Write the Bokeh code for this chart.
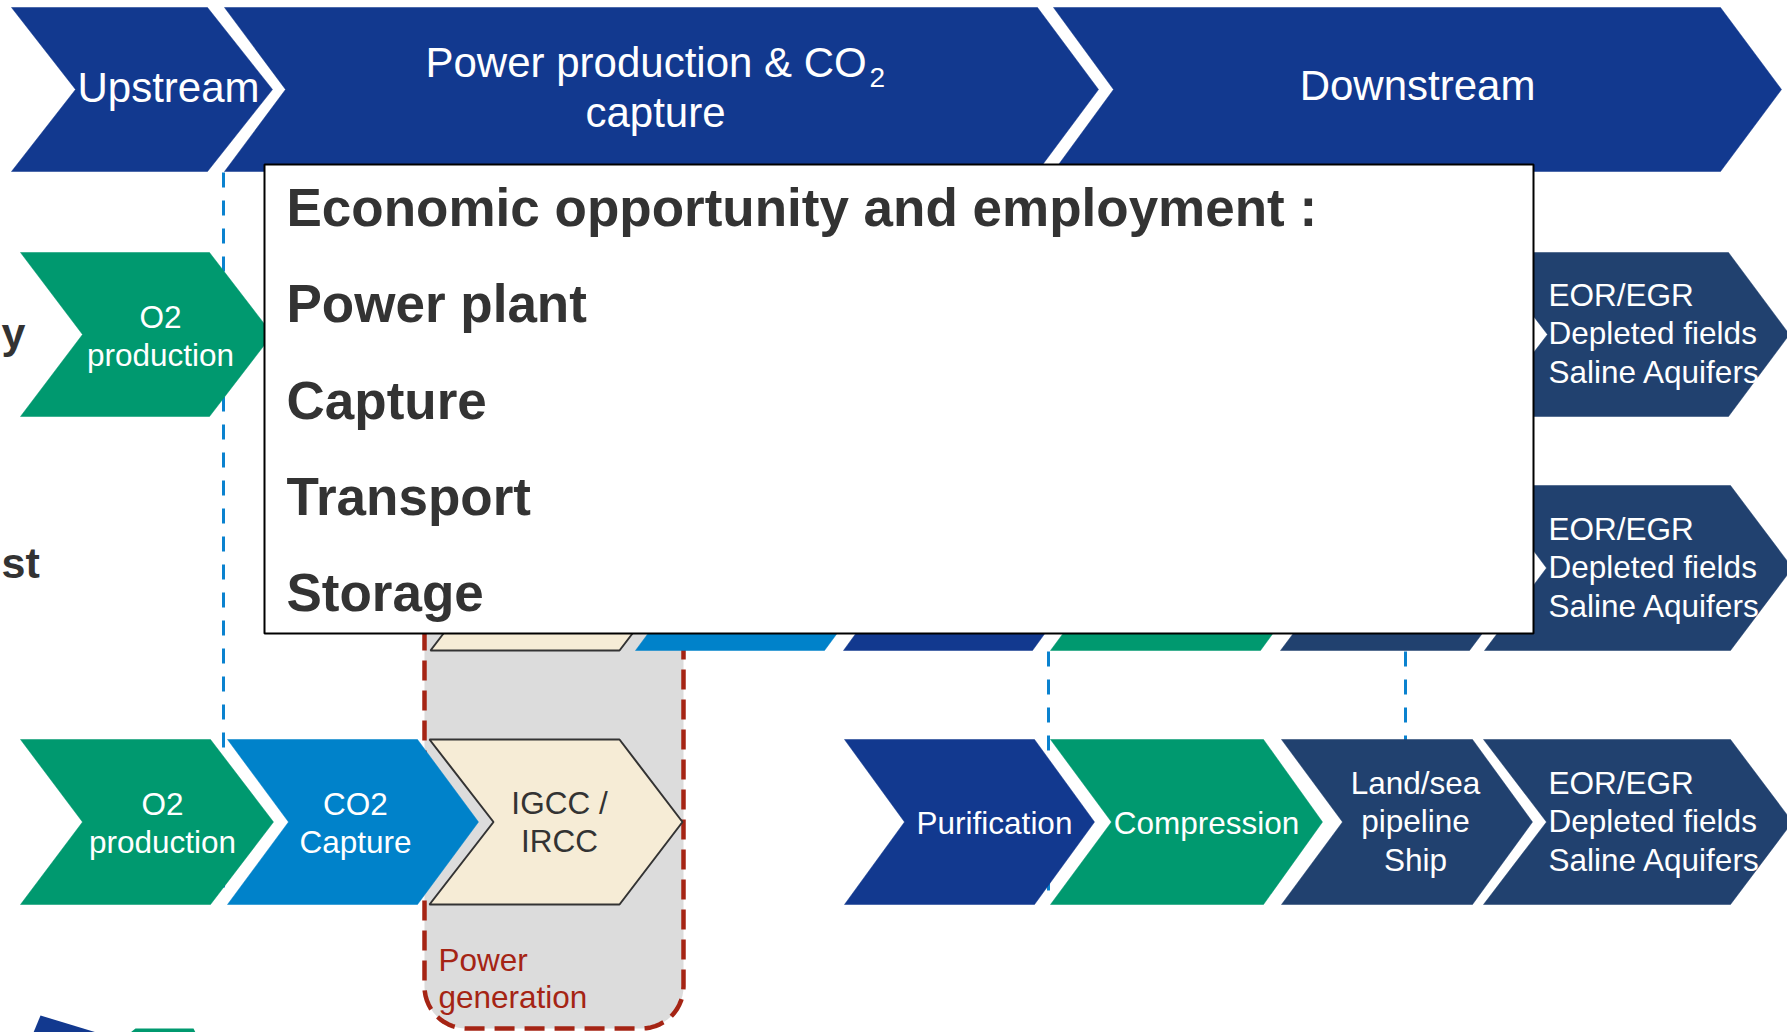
import math
from bokeh.plotting import figure
from bokeh.models import Range1d, ColumnDataSource
from bokeh.core.properties import value
from bokeh.embed import file_html
from bokeh.resources import INLINE

# ---------------- data: labels ----------------
header_stages = ["Upstream", "Power production & CO", "Downstream"]
header_second_line = ["", "capture", ""]
header_subscript = "2"

row1_stages = [["O2", "production"], ["EOR/EGR", "Depleted fields", "Saline Aquifers"]]
row2_stages = [[], [], [], [], [], ["EOR/EGR", "Depleted fields", "Saline Aquifers"]]
row3_stages = [["O2", "production"], ["CO2", "Capture"], ["IGCC /", "IRCC"],
               ["Purification"], ["Compression"], ["Land/sea", "pipeline", "Ship"],
               ["EOR/EGR", "Depleted fields", "Saline Aquifers"]]
group_label = ["Power", "generation"]
box_title = "Economic opportunity and employment :"
box_items = ["Power plant", "Capture", "Transport", "Storage"]
side_labels = ["y", "st"]

# ---------------- colours ----------------
HDR = "#12398F"
GREEN = "#00996F"
BLUE = "#0082CA"
NAVY = "#21416F"
BEIGE = "#F6ECD6"
GRAY = "#DCDCDC"
RED = "#A52414"
DASH = "#0A82CF"
DARK = "#333333"
FONT = value("Liberation Sans")

# ---------------- layout (picture pixels) ----------------
hdr_y = (7, 171)
hdr_geom = [(11, 207, 64, 65), (224, 1037, 61, 61), (1053, 1720, 60, 61)]

row1_y = (252, 416)
row1_geom = [(20, 209, 62, 63), (1484, 1728, 63, 61)]
row1_fill = [GREEN, NAVY]
row1_anchor = [(160, "center", 327), (1548, "left", 305)]

row2_y = (485, 650)
row2_geom = [(430, 619, 63, 63), (635, 824, 61, 61), (843, 1032, 60, 60),
             (1050, 1260, 61, 60), (1280, 1469, 62, 62), (1484, 1730, 62, 62)]
row2_fill = [BEIGE, BLUE, HDR, GREEN, NAVY, NAVY]
row2_anchor = [None, None, None, None, None, (1548, "left", 539)]

row3_y = (739, 904)
row3_geom = [(20, 210, 62, 63), (227, 417, 61, 61), (429, 619, 64, 63),
             (844, 1034, 60, 60), (1050, 1263, 61, 59), (1281, 1472, 61, 60),
             (1483, 1730, 63, 62)]
row3_fill = [GREEN, BLUE, BEIGE, HDR, GREEN, NAVY, NAVY]
row3_anchor = [(162, "center", 814), (355, "center", 814), (559, "center", 813),
               (994, "center", 833), (1206, "center", 833), (1415, "center", 793),
               (1548, "left", 793)]
LINE = 38.5
W, H = 1787, 1032


def mid(baseline, size):
    # convert an alphabetic baseline into the em-box middle used for drawing
    return baseline - 0.3465 * size


def chevron(g, yr):
    xl, xr, dl, dr = g
    yt, yb = yr
    ym = (yt + yb) / 2
    return [xl, xr, xr + dr, xr, xl, xl + dl], [yt, yt, ym, yb, yb, ym]


def rounded_bottom(x0, x1, yt, yb, r, n=14):
    xs, ys = [x0, x0], [yt, yb - r]
    for i in range(1, n + 1):
        a = math.pi / 2 * i / n
        xs.append(x0 + r - r * math.cos(a)); ys.append(yb - r + r * math.sin(a))
    for i in range(0, n + 1):
        a = math.pi / 2 * i / n
        xs.append(x1 - r + r * math.sin(a)); ys.append(yb - r + r * math.cos(a))
    xs.append(x1); ys.append(yt)
    return xs, ys


p = figure(width=W, height=H, x_range=Range1d(0, W), y_range=Range1d(H, 0),
           x_axis_type=None, y_axis_type=None, toolbar_location=None,
           output_backend="svg", min_border=0)
p.grid.visible = False
p.outline_line_color = None
p.background_fill_color = "white"
p.border_fill_color = "white"

# power-generation group background
gx, gy = rounded_bottom(424, 683, 540, 1028, 42)
p.patch(gx, gy, fill_color=GRAY, line_color=None)
p.line(gx, gy, line_color=RED, line_width=4.5, line_dash="20 10", line_join="round")

# dashed separators
p.segment(x0=[223, 1048, 1405], y0=[172, 651, 651], x1=[223, 1048, 1405], y1=[892, 893, 740],
          line_color=DASH, line_width=3, line_dash="15 13")


def add_row(geoms, yr, fills):
    xs, ys, fc, lc = [], [], [], []
    for g, f in zip(geoms, fills):
        x, y = chevron(g, yr)
        xs.append(x); ys.append(y); fc.append(f)
        lc.append(DARK if f == BEIGE else f)
    p.patches(xs, ys, fill_color=fc, line_color=lc,
              line_width=[2 if f == BEIGE else 0.5 for f in fills])


add_row(hdr_geom, hdr_y, [HDR] * 3)
add_row(row1_geom, row1_y, row1_fill)
add_row(row2_geom, row2_y, row2_fill)
add_row(row3_geom, row3_y, row3_fill)

# bottom-left partial shapes
p.patch([33, 40, 96], [1032, 1015, 1032], fill_color=HDR, line_color=None)
p.patch([130, 135, 193, 195], [1032, 1028, 1028, 1032], fill_color=GREEN, line_color=None)

S = 31.5
tx, ty, tt, ta, tc = [], [], [], [], []
for stages, anchors, fills in [(row1_stages, row1_anchor, row1_fill),
                               (row2_stages, row2_anchor, row2_fill),
                               (row3_stages, row3_anchor, row3_fill)]:
    for lines, anc, f in zip(stages, anchors, fills):
        if anc is None:
            continue
        x0, al, y0 = anc
        for i, ln in enumerate(lines):
            tx.append(x0); ty.append(mid(y0 + i * LINE, S)); tt.append(ln); ta.append(al)
            tc.append(DARK if f == BEIGE else "white")
src = ColumnDataSource(dict(x=tx, y=ty, text=tt, align=ta, color=tc))
p.text("x", "y", text="text", source=src, text_align="align", text_color="color",
       text_baseline="middle", text_font=FONT, text_font_size=f"{S}px")

# power generation label
p.text([438, 438], [mid(970, S), mid(1007, S)], text=group_label, text_align="left",
       text_color=RED, text_baseline="middle", text_font=FONT, text_font_size=f"{S}px")

# header labels
HS = 42
p.text([168, 1417], [mid(102, HS), mid(100, HS)], text=[header_stages[0], header_stages[2]],
       text_align="center", text_color="white", text_baseline="middle",
       text_font=FONT, text_font_size=f"{HS}px")
p.text([425], [mid(77, HS)], text=[header_stages[1]], text_align="left", text_color="white",
       text_baseline="middle", text_font=FONT, text_font_size=f"{HS}px")
p.text([869], [mid(87, 28)], text=[header_subscript], text_align="left", text_color="white",
       text_baseline="middle", text_font=FONT, text_font_size="28px")
p.text([655], [mid(127, HS)], text=[header_second_line[1]], text_align="center",
       text_color="white", text_baseline="middle", text_font=FONT,
       text_font_size=f"{HS}px")

# partial side labels at the left edge
p.text([1, 1], [mid(347, 43), mid(577, 43)], text=side_labels, text_align="left",
       text_color=DARK, text_baseline="middle", text_font=FONT, text_font_style="bold",
       text_font_size="43px")

# overlay box
p.quad(left=[264], right=[1533], top=[164], bottom=[633], fill_color="white",
       line_color="black", line_width=2)
BS = 53
box_text = [box_title] + box_items
p.text([286] * len(box_text), [mid(b, BS) for b in [225, 321, 418, 514, 610]], text=box_text,
       text_align="left", text_color=DARK, text_baseline="middle",
       text_font=FONT, text_font_style="bold", text_font_size=f"{BS}px")

open("out.html", "w").write(file_html(p, INLINE))
